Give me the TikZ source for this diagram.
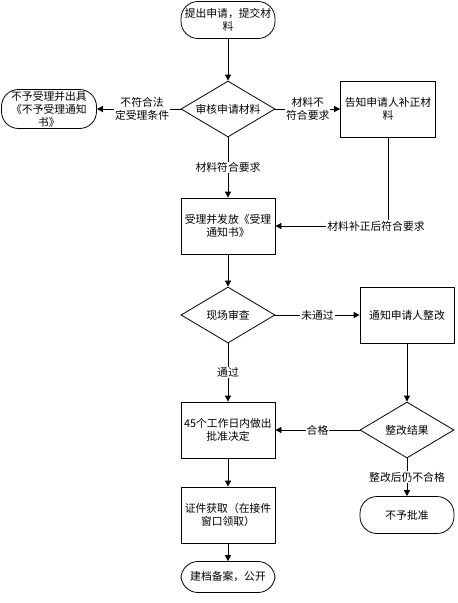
\documentclass[tikz,border=0pt]{standalone}
\usepackage{fontspec}
\setmainfont{Noto Sans CJK SC}
\usetikzlibrary{arrows.meta,shapes.geometric}
\begin{document}
\begin{tikzpicture}[x=1pt,y=-1pt,
  font=\fontsize{10.8}{13}\selectfont,
  every path/.style={line width=0.8pt},
  box/.style={draw, minimum width=94pt, minimum height=56pt, align=center, inner sep=1pt},
  term/.style={draw, rounded corners=17pt, minimum width=94pt, minimum height=37pt, align=center, inner sep=0pt},
  dia/.style={draw, diamond, aspect=1.68, minimum width=94pt, minimum height=56pt, align=center, inner sep=0pt},
  lab/.style={fill=white, align=center, inner sep=1pt},
  arr/.style={-{Triangle[length=6pt,width=6pt]}}]
\useasboundingbox[fill=white] (0,0) rectangle (458,603);
\node[term] (start) at (228,20) {提出申请，提交材\\料};
\node[dia] (d1) at (228,109) {审核申请材料};
\node[term, minimum width=95pt, minimum height=39pt] (rej) at (49,109) {不予受理并出具\\《不予受理通知\\书》};
\node[box, minimum width=95pt] (fix1) at (388,109) {告知申请人补正材\\料};
\node[box] (acc) at (228,226) {受理并发放《受理\\通知书》};
\node[dia] (d2) at (228,315) {现场审查};
\node[box] (fix2) at (407,315) {通知申请人整改};
\node[box] (dec) at (228,430) {45个工作日内做出\\批准决定};
\node[dia] (d3) at (407,430) {整改结果};
\node[box] (cert) at (228,515) {证件获取（在接件\\窗口领取）};
\node[term, minimum height=31pt] (end) at (228,577) {建档备案，公开};
\node[term] (deny) at (407,515) {不予批准};
\coordinate (c1) at (fix1.south |- acc.east);

\draw[arr] (start) -- (d1);
\draw[arr] (d1.west) -- (rej.east) node[lab, pos=0.46] {不符合法\\定受理条件};
\draw[arr] (d1.east) -- (fix1.west) node[lab, pos=0.5] {材料不\\符合要求};
\draw[arr] (d1.south) -- (acc.north) node[lab, pos=0.5] {材料符合要求};
\draw[arr] (fix1.south) -- (c1) -- (acc.east);
\node[lab] at (376,226) {材料补正后符合要求};
\draw[arr] (acc) -- (d2);
\draw[arr] (d2.east) -- (fix2.west) node[lab, pos=0.5] {未通过};
\draw[arr] (d2.south) -- (dec.north) node[lab, pos=0.5] {通过};
\draw[arr] (fix2.south) -- (d3.north);
\draw[arr] (d3.west) -- (dec.east) node[lab, pos=0.5] {合格};
\draw[arr] (d3.south) -- (deny.north) node[lab, pos=0.5] {整改后仍不合格};
\draw[arr] (dec) -- (cert);
\draw[arr] (cert) -- (end);
\end{tikzpicture}
\end{document}
